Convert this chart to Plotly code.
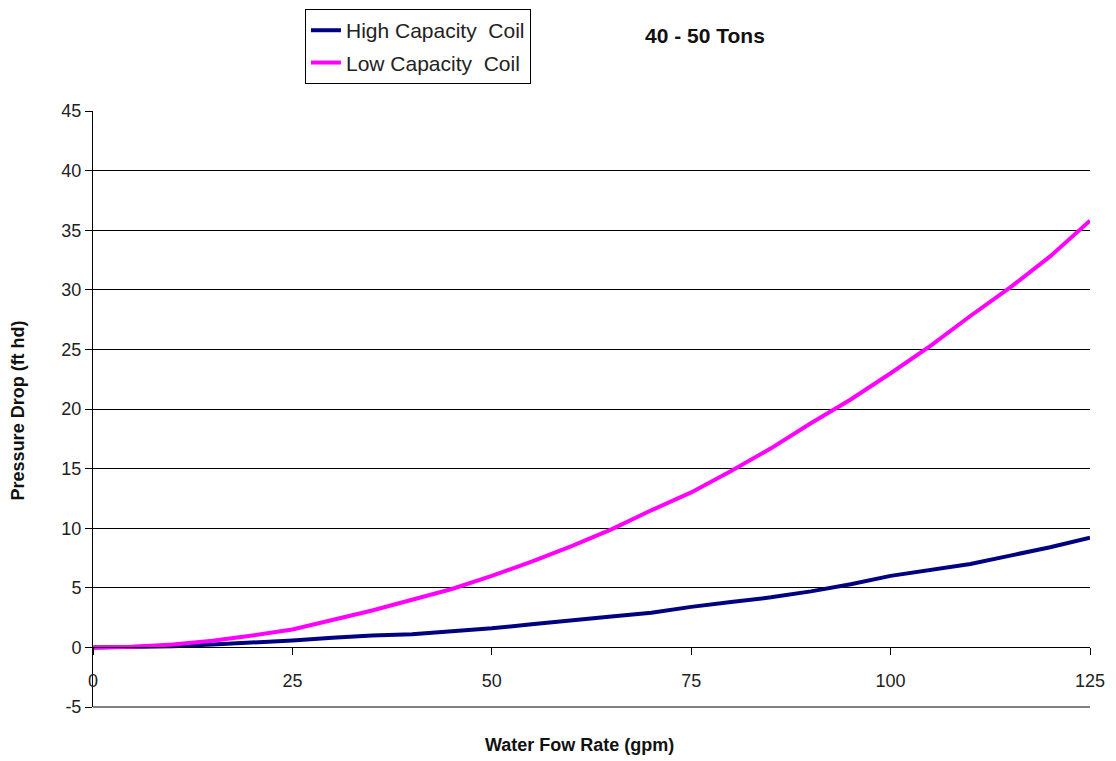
import plotly.graph_objects as go

# flow rate (gpm)
flow = [0, 5, 10, 15, 20, 25, 30, 35, 40, 45, 50, 55, 60, 65, 70, 75,
        80, 85, 90, 95, 100, 105, 110, 115, 120, 125]

# pressure drop (ft hd)
high_cap = [0, 0.02, 0.1, 0.25, 0.4, 0.58, 0.8, 1.0, 1.1, 1.35, 1.6, 1.95, 2.3,
            2.6, 2.9, 3.4, 3.8, 4.2, 4.7, 5.3, 6.0, 6.5, 7.0, 7.7, 8.4, 9.2]
low_cap = [0, 0.06, 0.25, 0.55, 1.0, 1.5, 2.3, 3.1, 4.0, 4.9, 6.0, 7.2, 8.5,
           9.9, 11.5, 13.0, 14.8, 16.7, 18.8, 20.8, 23.0, 25.3, 27.8, 30.2, 32.8, 35.8]

x_ticks = [0, 25, 50, 75, 100, 125]
y_ticks = [-5, 0, 5, 10, 15, 20, 25, 30, 35, 40, 45]
y_labels = ["-5", "0", "5", "10", "15", "20", "25", "30", "35", "40", "45"]

FONT = "Liberation Sans, Arial, sans-serif"

fig = go.Figure()
fig.add_trace(go.Scatter(x=flow, y=high_cap, mode="lines", name="High Capacity  Coil",
                         legendgroup="a", line=dict(color="#000080", width=4)))
fig.add_trace(go.Scatter(x=flow, y=low_cap, mode="lines", name="Low Capacity  Coil",
                         legendgroup="b", line=dict(color="#ff00ff", width=4)))

# page body has an 8px margin, so the figure is drawn at (8, 8)
fig.update_layout(
    width=1108, height=753,
    margin=dict(l=85, r=26, t=103, b=54, autoexpand=False),
    paper_bgcolor="white", plot_bgcolor="white",
    font=dict(family=FONT, size=18, color="#222"),
    showlegend=True,
    legend=dict(x=0.2126, y=1.171, xanchor="left", yanchor="top",
                bgcolor="white", bordercolor="black", borderwidth=1,
                font=dict(size=21), tracegroupgap=2),
    xaxis=dict(range=[0, 125], tickvals=x_ticks, showgrid=False, zeroline=False,
               showline=True, linecolor="black", linewidth=1,
               ticks="outside", ticklen=7, tickcolor="black",
               anchor="free", position=0.1, ticklabelstandoff=10),
    yaxis=dict(range=[-5, 45], tickvals=y_ticks, ticktext=y_labels,
               showgrid=True, gridcolor="black",
               gridwidth=1, zeroline=False, showline=True, linecolor="black",
               linewidth=1, ticks="outside", ticklen=7, tickcolor="black"),
    annotations=[
        dict(text="<b>40 - 50 Tons</b>", x=0.614, y=1.126, xref="paper", yref="paper",
             xanchor="center", yanchor="middle",
             showarrow=False, font=dict(size=21, color="#111")),
        dict(text="<b>Pressure Drop (ft hd)</b>", x=-0.075, y=0.498, xref="paper",
             yref="paper", xanchor="center", yanchor="middle",
             showarrow=False, textangle=-90, font=dict(size=18, color="#111")),
        dict(text="<b>Water Fow Rate (gpm)</b>", x=0.488, y=-0.064, xref="paper",
             yref="paper", xanchor="center", yanchor="middle",
             showarrow=False, font=dict(size=18, color="#111")),
    ],
)

# bottom frame line at -5 (plotly skips the gridline on the range edge)
fig.add_shape(type="line", xref="paper", yref="paper", x0=0, x1=1, y0=0, y1=0,
              line=dict(color="black", width=1), layer="below")

fig.write_html("out.html")
